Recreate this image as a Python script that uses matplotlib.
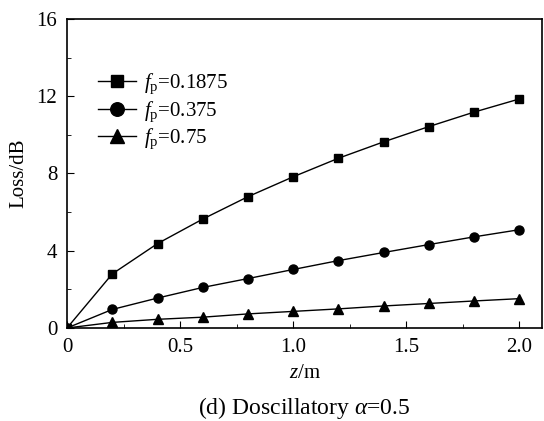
import matplotlib
matplotlib.use('Agg')
import matplotlib.pyplot as plt
from matplotlib.ticker import MultipleLocator, FuncFormatter

plt.rcParams['font.family'] = ['Liberation Serif', 'DejaVu Serif']
plt.rcParams['mathtext.fontset'] = 'custom'
plt.rcParams['mathtext.rm'] = 'Liberation Serif'
plt.rcParams['mathtext.it'] = 'Liberation Serif:italic'

# data
z = [0, 0.2, 0.4, 0.6, 0.8, 1.0, 1.2, 1.4, 1.6, 1.8, 2.0]
loss_01875 = [0, 2.80, 4.37, 5.64, 6.80, 7.83, 8.79, 9.64, 10.43, 11.18, 11.86]
loss_0375 = [0, 0.96, 1.55, 2.10, 2.56, 3.03, 3.49, 3.91, 4.32, 4.72, 5.09]
loss_075 = [0, 0.29, 0.45, 0.56, 0.73, 0.86, 0.99, 1.14, 1.27, 1.40, 1.52]
labels = [r'$f_{\mathrm{p}}$=0.1875', r'$f_{\mathrm{p}}$=0.375', r'$f_{\mathrm{p}}$=0.75']

fig = plt.figure(figsize=(5.44, 4.21), dpi=100)
ax = fig.add_axes([0.1232, 0.2209, 0.8732, 0.734])

ax.plot(z, loss_01875, 'k-s', lw=1, ms=6, label=labels[0])
ax.plot(z, loss_0375, 'k-o', lw=1, ms=6.5, label=labels[1])
ax.plot(z, loss_075, 'k-^', lw=1, ms=6.5, label=labels[2])

ax.set_xlim(0, 2.1)
ax.set_ylim(0, 16)
ax.xaxis.set_major_locator(MultipleLocator(0.5))
ax.xaxis.set_minor_locator(MultipleLocator(0.25))
ax.yaxis.set_major_locator(MultipleLocator(4))
ax.yaxis.set_minor_locator(MultipleLocator(2))
ax.xaxis.set_major_formatter(FuncFormatter(lambda v, p: '0' if v == 0 else f'{v:.1f}'))
ax.tick_params(which='both', direction='in', top=False, right=False, labelsize=15, pad=7)
ax.tick_params(which='major', length=5)
ax.tick_params(which='minor', length=3)
for s in ax.spines.values():
    s.set_linewidth(1.2)

ax.set_xlabel(r'$z$/m', fontsize=15, labelpad=5)
ax.set_ylabel('Loss/dB', fontsize=15, labelpad=6)

ax.legend(loc='upper left', bbox_to_anchor=(0.026, 0.89), frameon=False, fontsize=15,
          markerscale=1.5, handlelength=1.8, handletextpad=0.4, labelspacing=0.15)

fig.text(0.56, 0.016, r'(d) Doscillatory $\alpha$=0.5', ha='center', va='baseline', fontsize=17)

fig.savefig('out.png', dpi=100)
